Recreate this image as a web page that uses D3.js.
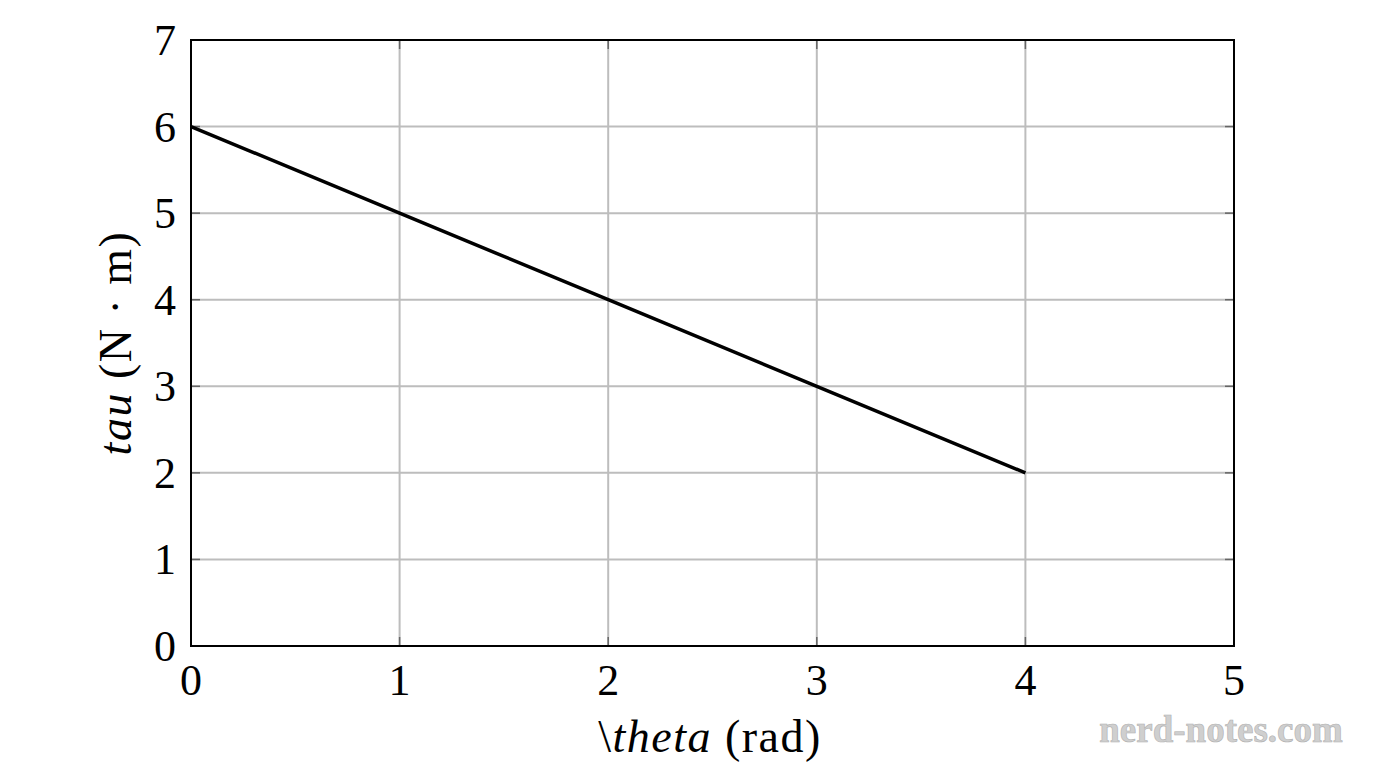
<!DOCTYPE html>
<html><head><meta charset="utf-8">
<script src="https://cdn.jsdelivr.net/npm/d3@7"></script>
<style>body{margin:0;background:#fff;} svg{display:block;} text{font-family:"Liberation Serif","DejaVu Serif",serif;}</style>
</head><body>
<svg id="c" width="1376" height="768"></svg>
<script>
const thetaValues = [0, 1, 2, 3, 4];
const tauValues = [6, 5, 4, 3, 2];
const xTicks = [0, 1, 2, 3, 4, 5];
const yTicks = [0, 1, 2, 3, 4, 5, 6, 7];

const svg = d3.select("#c");
const m = {l:191, r:1234, t:40, b:646};
const x = d3.scaleLinear().domain([0,5]).range([m.l, m.r]);
const y = d3.scaleLinear().domain([0,7]).range([m.b, m.t]);

const g = svg.append("g");
// grid
g.selectAll(".gx").data(xTicks.slice(1,-1)).enter().append("line")
  .attr("x1", d=>x(d)).attr("x2", d=>x(d)).attr("y1", m.t).attr("y2", m.b)
  .attr("stroke", "#bdbdbd").attr("stroke-width", 2);
g.selectAll(".gy").data(yTicks.slice(1,-1)).enter().append("line")
  .attr("y1", d=>y(d)).attr("y2", d=>y(d)).attr("x1", m.l).attr("x2", m.r)
  .attr("stroke", "#bdbdbd").attr("stroke-width", 2);
// small inside ticks
xTicks.forEach(d=>{
  [[m.b, m.b-9],[m.t, m.t+9]].forEach(([a,b])=>g.append("line").attr("x1",x(d)).attr("x2",x(d)).attr("y1",a).attr("y2",b).attr("stroke","#666").attr("stroke-width",1.5));
});
yTicks.forEach(d=>{
  [[m.l, m.l+9],[m.r, m.r-9]].forEach(([a,b])=>g.append("line").attr("y1",y(d)).attr("y2",y(d)).attr("x1",a).attr("x2",b).attr("stroke","#666").attr("stroke-width",1.5));
});
// frame
g.append("rect").attr("x", m.l).attr("y", m.t).attr("width", m.r-m.l).attr("height", m.b-m.t)
  .attr("fill","none").attr("stroke","#000").attr("stroke-width",2);

// line
const line = d3.line().x((d,i)=>x(thetaValues[i])).y(d=>y(d));
g.append("path").datum(tauValues).attr("d", line).attr("fill","none").attr("stroke","#000").attr("stroke-width",3.5);

// tick labels
g.selectAll(".xl").data(xTicks).enter().append("text")
  .attr("transform", d=>`translate(${x(d)},${m.b+49})`)
  .attr("text-anchor","middle").attr("font-size",44).text(d=>d);
g.selectAll(".yl").data(yTicks).enter().append("text")
  .attr("transform", d=>`translate(${m.l-15},${y(d)+15})`)
  .attr("text-anchor","end").attr("font-size",44).text(d=>d);

// axis titles
const xt = g.append("text").attr("transform", `translate(710,752)`)
  .attr("text-anchor","middle").attr("font-size",46).attr("letter-spacing",1.5);
xt.append("tspan").text("\\");
xt.append("tspan").attr("font-style","italic").text("theta");
xt.append("tspan").text(" (rad)");

const yt = g.append("text").attr("transform", `translate(131,343) rotate(-90)`)
  .attr("text-anchor","middle").attr("font-size",46).attr("letter-spacing",1.5);
yt.append("tspan").attr("font-style","italic").text("tau");
yt.append("tspan").text(" (N \u00b7 m)");

// watermark
g.append("text").attr("transform","translate(1221,742)").attr("text-anchor","middle")
  .attr("font-size",37).attr("font-weight","bold").attr("fill","#cfcfcf")
  .attr("stroke","#b0b0b0").attr("stroke-width",0.6).text("nerd-notes.com");
</script>
</body></html>
